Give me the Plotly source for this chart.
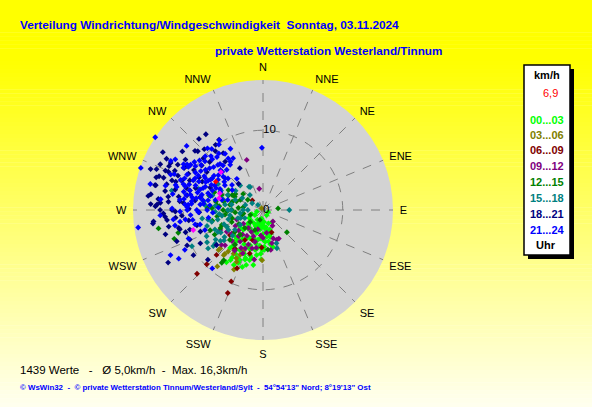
import plotly.graph_objects as go

# ---------------- data (direction in degrees, speed in km/h) ----------------
dir_00_03 = [172,176,189,196,200,197,205,205,189,200,158,189,238,224,220,222,221,205,213,215,
             200,179,174,185,195,200,205,220,255,144,215,186,191,161,210,207,209,
             195,180,170,165,192,198,203,183,178,168,210,215,225,230,212,208,
             180,164,190,181,193,214,213,112,143,226,222,
             175,185,195,205,215,170,160,170,178,185,188,195,200,203,208,212,218,220,226,232,
             165,182,190,198,228,240,250,210]
spd_00_03 = [3.4,4.0,4.9,5.9,6.6,7.2,7.3,3.9,2.5,1.8,1.8,1.1,1.2,2.6,4.1,5.3,6.3,6.9,7.5,8.0,
             6.4,3.8,2.3,1.7,3.0,4.7,5.8,5.1,0.8,0.8,2.8,3.6,5.1,2.6,5.8,3.1,4.9,
             2.0,3.0,2.7,3.5,4.3,5.2,6.0,5.5,4.6,4.4,4.0,4.5,3.5,2.0,6.5,7.8,
             1.9,3.2,3.8,5.0,6.2,6.0,7.1,0.7,1.9,3.3,4.7,
             1.5,2.2,2.4,2.2,2.0,2.2,3.0,4.0,5.0,4.5,5.7,6.5,7.6,5.0,6.8,4.2,3.0,5.9,4.8,3.6,
             4.8,6.2,7.0,3.7,2.5,2.0,1.5,1.4]

dir_03_06 = [228,221,219,206,181,214,207,209,220,206,221,228,207,216,320]
spd_03_06 = [7.5,7.5,9.1,8.3,6.3,6.6,6.3,6.9,6.8,5.6,7.3,7.2,7.3,6.2,0.3]

dir_06_09 = [226,226,226,203,204,204,312,159,182,197,211,233,216,199]
spd_06_09 = [8.1,9.8,11.5,11.3,9.8,8.0,1.8,3.0,4.7,5.7,4.4,5.2,6.0,4.0]

dir_09_12 = [342,350,139,149,151,160,194,190,227,205,219,216,203,208,171,233,245,223,219,239,
             169,155,196,212,230,185,
             200,210,225,215,190,180,165,230,240,250,235,220,205,195]
spd_09_12 = [6.6,2.7,1.9,2.3,4.1,3.8,4.1,6.3,6.5,5.3,5.6,4.9,4.7,3.1,2.9,4.9,5.9,4.5,2.9,5.3,
             5.1,4.1,5.0,3.8,4.0,3.2,
             3.5,5.5,5.5,6.2,4.8,3.5,4.3,6.8,4.0,3.5,3.0,4.0,6.0,2.5]

dir_12_15 = [84,272,276,260,255,252,309,293,295,133,173,218,296,228,218,263,275,249,225,247,
             249,223,249,202,284,279,304,243,219,197,285,290,270,265,280,300,258,
             294,270,250,227,257,
             262,268,272,282,288,300,278,255,240,232,245,260,290,275,285]
spd_12_15 = [1.9,6.4,5.8,13.3,11.0,11.7,3.2,4.7,3.9,4.1,5.0,8.4,4.3,5.6,8.0,4.8,3.1,4.2,3.2,5.8,
             1.7,4.2,7.1,2.7,5.3,4.2,2.3,6.8,5.6,1.3,4.0,5.5,5.0,3.5,6.0,5.0,6.5,
             3.1,3.9,5.5,2.2,2.7,
             5.8,4.5,7.0,5.0,3.5,4.0,2.5,4.0,3.5,4.5,5.0,2.5,6.5,5.5,7.0]

dir_15_18 = [90,329,317,282,262,254,257,268,243,235,235,158,160,234,235,331,240,234,245,262,
             290,278,261,286,258,237,319,246,286,235,275,315,293,250,242,230,270,300,
             270,252,244,270,302,
             255,265,275,280,260,248,240,285,295,305,270,250,262,278,288,300,245,238,232]
spd_15_18 = [3.3,3.4,4.2,11.7,7.7,7.3,6.6,6.0,10.0,8.4,7.3,4.5,5.1,6.6,5.9,3.3,8.1,7.7,5.0,2.9,
             3.7,4.8,4.2,2.3,5.8,3.4,2.5,2.5,6.6,4.3,7.3,0.9,4.8,5.2,6.0,5.0,4.0,3.0,
             4.4,3.3,6.3,1.9,1.6,
             4.5,5.5,6.0,4.0,7.0,6.5,5.0,5.2,5.8,4.2,2.5,3.0,5.2,7.5,8.5,6.5,7.8,7.0,6.2]

dir_18_21 = [323,324,312,298,294,298,291,294,298,306,292,288,292,296,304,288,288,290,295,288,
             281,276,275,279,281,270,271,264,264,266,269,262,254,257,251,242,237,241,228,331,
             322,317,328,316,321,325,311,292,283,278,273,263,287,274,266,233,
             300,285,293,276,268,258,297,283,
             292,278,283,270,257,248,256,273,303,311,
             300,290,285,278,272,268,260,255,250,245,295,300,306,312,318,286,282,275,265,297,288,277]
spd_18_21 = [11.9,10.1,9.0,13.7,14.1,12.1,14.3,12.1,11.2,9.5,12.8,13.7,11.5,10.4,8.5,13.1,12.0,10.8,8.4,8.9,
             12.5,13.2,11.9,10.7,9.7,12.9,9.3,13.8,12.1,10.2,11.0,9.4,10.1,8.5,8.3,8.9,10.4,13.6,9.3,6.0,
             7.7,4.5,10.4,10.6,9.5,8.7,9.9,9.9,11.3,8.6,14.1,13.9,14.0,12.9,12.3,7.3,
             10.0,9.5,7.2,10.5,8.0,10.8,13.0,13.8,
             13.2,14.2,13.9,11.4,10.7,9.9,12.6,13.3,11.6,11.3,
             14.5,15.0,12.5,12.0,13.5,12.5,12.0,9.5,11.5,10.5,13.0,11.0,12.5,11.0,12.0,10.0,8.0,10.0,11.0,9.0,11.5,14.5]

dir_21_24 = [304,289,262,318,313,319,317,298,301,303,298,293,302,308,285,287,292,277,284,280,
             271,269,270,270,264,249,244,240,221,359,328,326,332,326,326,313,312,320,303,299,
             288,291,282,282,275,274,300,305,303,284,290,284,276,260,266,267,257,243,267,283,
             298,318,326,295,285,310,296,305,290,280,278,272,262,
             302,308,308,313,324,295,299,297,310,285,281,275,293,274,268,262,273,286,309,258,
             251,263,277,291,300,
             315,320,310,300,295,290,285,280,275,288,305,315,300,292,280,296,306,318,330,322,
             287,270,276,262,310,
             298,302,294,289,283,279,306,311,316,300,292,286,281,296,304]
spd_21_24 = [16.3,16.2,15.8,10.4,9.9,8.8,7.9,13.1,11.1,10.1,9.2,9.5,7.5,7.1,11.2,10.2,7.8,9.0,7.9,7.0,
             11.4,10.4,8.3,7.0,11.3,10.0,12.9,12.2,9.7,7.8,10.3,9.9,8.7,8.5,7.8,7.3,5.9,5.1,4.6,9.7,
             8.3,6.8,9.3,6.1,7.9,9.8,7.6,8.8,5.7,5.3,11.0,12.6,12.9,11.2,9.1,6.3,8.1,11.0,12.9,14.5,
             11.3,6.8,7.3,6.5,6.8,6.5,8.0,10.5,9.0,8.5,10.0,9.5,8.9,
             10.7,10.1,8.5,7.0,7.0,9.4,8.3,6.8,6.2,9.5,8.0,6.7,5.8,9.4,8.1,6.9,5.6,4.6,5.0,8.7,
             7.7,9.8,10.5,12.4,12.7,
             9.0,10.0,9.5,8.5,10.5,8.0,8.5,9.0,9.0,10.5,7.5,8.0,11.5,12.0,11.5,6.0,6.0,7.5,7.5,9.0,
             7.2,9.5,7.5,10.5,12.5,
             7.8,9.2,8.8,9.8,10.2,7.6,9.6,8.2,9.4,10.8,10.6,11.4,9.8,7.2,6.8]

dir_last = [312,291,285,254]
spd_last = [7.1,5.8,5.7,9.1]
dir_now = [301]
spd_now = [6.9]

groups = [
    ("00...03", dir_00_03, spd_00_03, "#00FF00"),
    ("03...06", dir_03_06, spd_03_06, "#808000"),
    ("06...09", dir_06_09, spd_06_09, "#800000"),
    ("09...12", dir_09_12, spd_09_12, "#800080"),
    ("12...15", dir_12_15, spd_12_15, "#008000"),
    ("15...18", dir_15_18, spd_15_18, "#008080"),
    ("18...21", dir_18_21, spd_18_21, "#000080"),
    ("21...24", dir_21_24, spd_21_24, "#0000FF"),
]

compass = ["N","NNE","NE","ENE","E","ESE","SE","SSE","S","SSW","SW","WSW","W","WNW","NW","NNW"]
compass_deg = [i * 22.5 for i in range(16)]
radial_ticks = [0, 10]
current_speed = "6,9"
title1 = "Verteilung Windrichtung/Windgeschwindigkeit  Sonntag, 03.11.2024"
title2 = "private Wetterstation Westerland/Tinnum"
stats = "1439 Werte   -   Ø 5,0km/h  -  Max. 16,3km/h"
footer = "© WsWin32  -  © private Wetterstation Tinnum/Westerland/Sylt  -  54°54'13\" Nord; 8°19'13\" Ost"

W, H = 592, 407
MS = 4.5

fig = go.Figure()
for name, d, s, c in groups:
    fig.add_trace(go.Scatterpolar(theta=d, r=s, mode="markers", name=name,
                                  marker=dict(symbol="diamond", size=MS, color=c, line=dict(width=0)),
                                  showlegend=False, hoverinfo="skip"))
fig.add_trace(go.Scatterpolar(theta=dir_last, r=spd_last, mode="markers",
                              marker=dict(symbol="diamond", size=MS, color="#FF00FF", line=dict(width=0)),
                              showlegend=False, hoverinfo="skip"))
fig.add_trace(go.Scatterpolar(theta=dir_now, r=spd_now, mode="markers",
                              marker=dict(symbol="diamond", size=MS, color="#FF0000", line=dict(width=0)),
                              showlegend=False, hoverinfo="skip"))
# radial tick labels placed on the north spoke
fig.add_trace(go.Scatterpolar(theta=[0] * len(radial_ticks), r=radial_ticks, mode="text",
                              text=[str(v) for v in radial_ticks], textposition="middle right",
                              textfont=dict(family="Arial", size=11.5, color="black"),
                              showlegend=False, hoverinfo="skip"))

# background gradient (yellow -> pale)
shapes = []
N = 100
for i in range(N):
    y_top_px = i * H / N
    y_bot_px = (i + 1) * H / N
    ymid = (y_top_px + y_bot_px) / 2
    if ymid < 60:
        b = 0
    else:
        b = int(min(240, (ymid - 60) / (H - 60) * 240))
    shapes.append(dict(type="rect", xref="paper", yref="paper", x0=0, x1=1,
                       y0=1 - y_bot_px / H, y1=1 - y_top_px / H + 0.001,
                       fillcolor=f"rgb(255,255,{b})", line=dict(width=0), layer="below"))

def px(x):
    return x / W

def py(y):
    return 1 - y / H

# legend box shadow + box
shapes.append(dict(type="rect", xref="paper", yref="paper", x0=px(528), x1=px(574), y0=py(259), y1=py(69),
                   fillcolor="black", line=dict(width=0), layer="above"))
shapes.append(dict(type="rect", xref="paper", yref="paper", x0=px(524), x1=px(570), y0=py(255), y1=py(65),
                   fillcolor="white", line=dict(color="black", width=1.5), layer="above"))

ann = []
ann.append(dict(text="<b>" + title1 + "</b>", x=px(18), y=py(25), xref="paper", yref="paper",
                xanchor="left", yanchor="middle", showarrow=False,
                font=dict(family="Arial", size=11.8, color="#0000FF")))
ann.append(dict(text="<b>" + title2 + "</b>", x=px(213), y=py(50), xref="paper", yref="paper",
                xanchor="left", yanchor="middle", showarrow=False,
                font=dict(family="Arial", size=11.7, color="#0000FF")))
ann.append(dict(text=stats.replace(" ", "\u00a0"), x=px(18), y=py(370), xref="paper", yref="paper",
                xanchor="left", yanchor="middle", showarrow=False,
                font=dict(family="Arial", size=11.5, color="black")))
ann.append(dict(text="<b>" + footer.replace(" ", "\u00a0") + "</b>", x=px(18), y=py(387), xref="paper", yref="paper",
                xanchor="left", yanchor="middle", showarrow=False,
                font=dict(family="Arial", size=7.9, color="#0000FF")))

ann.append(dict(text="<b>km/h</b>", x=px(547), y=py(75), xref="paper", yref="paper",
                xanchor="center", yanchor="middle", showarrow=False,
                font=dict(family="Arial", size=11, color="black")))
ann.append(dict(text=current_speed, x=px(550), y=py(93), xref="paper", yref="paper",
                xanchor="center", yanchor="middle", showarrow=False,
                font=dict(family="Arial", size=11, color="red")))
hour_y = [120, 134.5, 150, 166, 181.5, 197.5, 213.5, 229.5]
for (name, d, s, c), yy in zip(groups, hour_y):
    ann.append(dict(text="<b>" + name + "</b>", x=px(547), y=py(yy), xref="paper", yref="paper",
                    xanchor="center", yanchor="middle", showarrow=False,
                    font=dict(family="Arial", size=11, color=c)))
ann.append(dict(text="<b>Uhr</b>", x=px(546), y=py(245), xref="paper", yref="paper",
                xanchor="center", yanchor="middle", showarrow=False,
                font=dict(family="Arial", size=11, color="black")))

cx, cy, R = 263, 210, 130
fig.update_layout(
    width=W, height=H, autosize=False,
    margin=dict(l=0, r=0, t=0, b=0, pad=0),
    paper_bgcolor="rgba(0,0,0,0)",
    shapes=shapes, annotations=ann, showlegend=False,
    polar=dict(
        domain=dict(x=[(cx - R) / W, (cx + R) / W], y=[1 - (cy + R) / H, 1 - (cy - R) / H]),
        bgcolor="#d3d3d3",
        angularaxis=dict(rotation=90, direction="clockwise", tickmode="array",
                         tickvals=compass_deg, ticktext=compass, showline=False,
                         ticks="outside", ticklen=4, tickcolor="rgba(0,0,0,0)",
                         showgrid=True, gridcolor="#808080", griddash="dash", gridwidth=1,
                         tickfont=dict(family="Arial", size=11, color="black")),
        radialaxis=dict(range=[0, 16.3], tickmode="array", tickvals=radial_ticks,
                        angle=90, showticklabels=False,
                        showline=False, ticks="", showgrid=True, gridcolor="#808080",
                        griddash="dash", gridwidth=1),
    ),
)

fig.write_html("out.html", config={"displayModeBar": False},
               post_script="document.body.style.margin='0px';document.body.style.padding='0px';")
